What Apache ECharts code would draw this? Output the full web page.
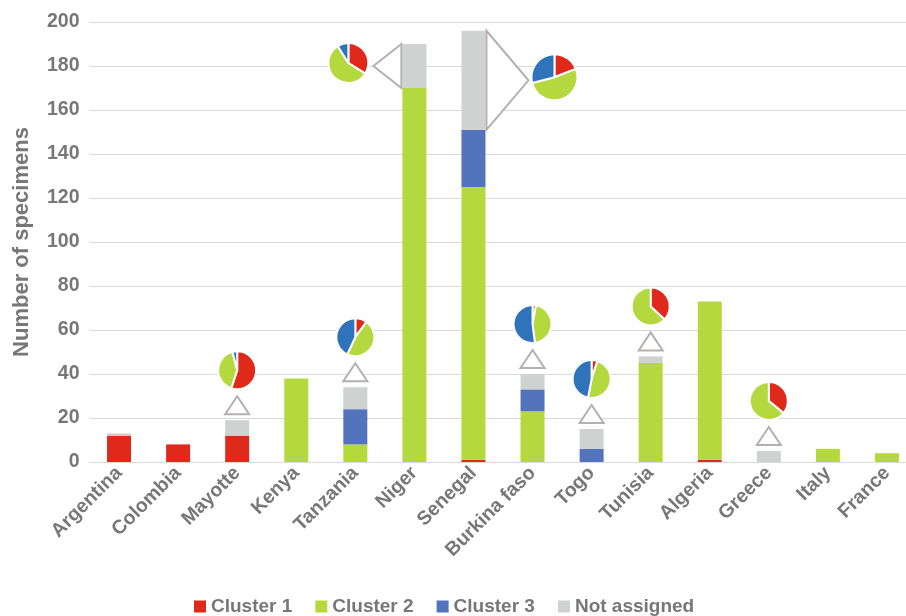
<!DOCTYPE html>
<html><head><meta charset="utf-8">
<script src="https://cdn.jsdelivr.net/npm/echarts@6/dist/echarts.min.js"></script>
<style>html,body{margin:0;padding:0;background:#fff}#c{width:906px;height:616px}</style>
</head><body><div id="c"></div>
<script>
// ---- data ----
const categories = ['Argentina','Colombia','Mayotte','Kenya','Tanzania','Niger','Senegal','Burkina faso','Togo','Tunisia','Algeria','Greece','Italy','France'];
const cluster1    = [12, 8, 12, 0, 0, 0, 1, 0, 0, 0, 1, 0, 0, 0];
const cluster2    = [0, 0, 0, 38, 8, 170, 124, 23, 0, 45, 72, 0, 6, 4];
const cluster3    = [0, 0, 0, 0, 16, 0, 26, 10, 6, 0, 0, 0, 0, 0];
const notAssigned = [1, 0, 7, 0, 10, 20, 45, 7, 9, 3, 0, 5, 0, 0];
const yTicks = { min: 0, max: 200, interval: 20 };

// composition (%) of the not-assigned specimens, shown as pies
const pieCountries = ['Mayotte','Tanzania','Niger','Senegal','Burkina faso','Togo','Tunisia','Greece'];
const pieCluster1  = [55, 10, 34, 19, 3, 5, 37, 36];
const pieCluster2  = [41, 47, 57, 52, 45, 48, 63, 64];
const pieCluster3  = [4, 43, 9, 29, 52, 47, 0, 0];

// ---- styles ----
const COL = { c1:'#DF2A1B', c2:'#B3D93E', c3:'#5473BD', na:'#D0D1D1', pieC3:'#2F73BA' };
const TXT = '#777777';
const FONT = 'Liberation Sans, Arial, sans-serif';
const calloutSide = { Niger: 'left', Senegal: 'right' };
const calloutWidth = { Niger: 28, Senegal: 42 };
const pieRadius = { Niger: 20, Senegal: 23 };

const totals = categories.map((_, i) => cluster1[i] + cluster2[i] + cluster3[i] + notAssigned[i]);
const pieIdx = pieCountries.map(n => categories.indexOf(n));
const sides = pieCountries.map(n => calloutSide[n] || 'top');

function geom(api, k) {
  const i = pieIdx[k];
  const hi = api(i, totals[i]);
  const lo = api(i, totals[i] - notAssigned[i]);
  const side = sides[k];
  const name = pieCountries[k];
  const half = 12;
  let pts, center;
  if (side === 'top') {
    const by = hi[1] - 6;
    pts = [[hi[0] - 12, by], [hi[0] + 12, by], [hi[0], by - 18]];
    center = [hi[0], by - 18 - 26];
  } else if (side === 'left') {
    const bx = hi[0] - half - 1, w = calloutWidth[name], my = (hi[1] + lo[1]) / 2;
    pts = [[bx, hi[1]], [bx, lo[1]], [bx - w, my]];
    center = [bx - w - 5 - (pieRadius[name] || 19), my - 3];
  } else {
    const bx = hi[0] + half + 1, w = calloutWidth[name], my = (hi[1] + lo[1]) / 2;
    pts = [[bx, hi[1]], [bx, lo[1]], [bx + w, my]];
    center = [bx + w + 3 + (pieRadius[name] || 19), my - 3];
  }
  return { pts, center };
}

const chart = echarts.init(document.getElementById('c'), null, { renderer: 'canvas' });

function barSeries(name, data, color) {
  return { name, type: 'bar', stack: 'total', data, barWidth: 24,
    itemStyle: { color }, emphasis: { disabled: true } };
}

const baseOption = {
  animation: false,
  backgroundColor: '#fff',
  grid: { left: 89.5, top: 22, width: 827, height: 440, containLabel: false, outerBoundsMode: 'none' },
  legend: {
    data: ['Cluster 1','Cluster 2','Cluster 3','Not assigned'],
    left: 189, top: 592, itemWidth: 12, itemHeight: 12, itemGap: 23,
    icon: 'rect',
    textStyle: { fontFamily: FONT, fontSize: 19, fontWeight: 'bold', color: TXT }
  },
  xAxis: {
    type: 'category', data: categories,
    axisLine: { lineStyle: { color: '#D9D9D9', width: 1 } },
    axisTick: { show: false },
    axisLabel: { rotate: 45, margin: 8, fontFamily: FONT, fontSize: 19.5, fontWeight: 'bold', color: TXT, interval: 0 }
  },
  yAxis: {
    type: 'value', min: yTicks.min, max: yTicks.max, interval: yTicks.interval,
    name: 'Number of specimens', nameLocation: 'middle', nameRotate: 90, nameGap: 57,
    nameTextStyle: { fontFamily: FONT, fontSize: 22, fontWeight: 'bold', color: TXT },
    axisLine: { show: false }, axisTick: { show: false },
    axisLabel: { margin: 10, fontFamily: FONT, fontSize: 19.5, fontWeight: 'bold', color: TXT },
    splitLine: { lineStyle: { color: '#D9D9D9', width: 1 } }
  },
  series: [
    barSeries('Cluster 1', cluster1, COL.c1),
    barSeries('Cluster 2', cluster2, COL.c2),
    barSeries('Cluster 3', cluster3, COL.c3),
    barSeries('Not assigned', notAssigned, COL.na),
    {
      type: 'custom', name: 'callouts', silent: true, z: 5,
      data: pieCountries.map((n, k) => [k]),
      renderItem: (params, api) => {
        const g = geom((i, v) => api.coord([i, v]), params.dataIndex);
        return { type: 'polygon', shape: { points: g.pts },
          style: { fill: '#fff', stroke: '#B5AFAF', lineWidth: 2 } };
      }
    }
  ]
};
chart.setOption(baseOption);

const toPx = (i, v) => chart.convertToPixel({ xAxisIndex: 0, yAxisIndex: 0 }, [categories[i], v]);
const pies = pieCountries.map((name, k) => {
  const g = geom(toPx, k);
  const items = [
    { name: 'Cluster 1', value: pieCluster1[k], itemStyle: { color: COL.c1 } },
    { name: 'Cluster 2', value: pieCluster2[k], itemStyle: { color: COL.c2 } },
    { name: 'Cluster 3', value: pieCluster3[k], itemStyle: { color: COL.pieC3 } }
  ].filter(d => d.value > 0);
  return {
    type: 'pie', name: 'pie-' + name, silent: true, z: 6,
    center: g.center, radius: pieRadius[name] || 19, startAngle: 90, clockwise: true,
    label: { show: false }, labelLine: { show: false },
    itemStyle: { borderColor: '#fff', borderWidth: 2 },
    emphasis: { disabled: true },
    data: items
  };
});
chart.setOption({ series: baseOption.series.concat(pies) });
</script>
</body></html>
